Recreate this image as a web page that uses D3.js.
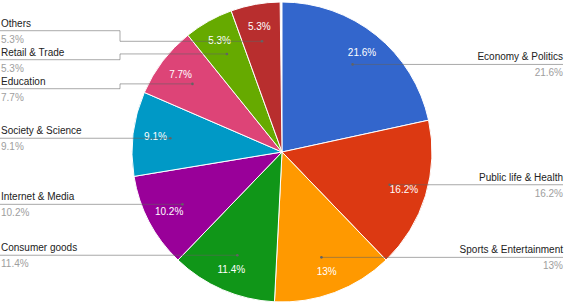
<!DOCTYPE html>
<meta charset="utf-8">
<style>
  body { margin: 0; background: #fff; }
  text { font-family: "Liberation Sans", Arial, sans-serif; font-size: 10px; }
</style>
<body>
<script src="https://cdn.jsdelivr.net/npm/d3@7"></script>
<script>
  // slices, clockwise from 12 o'clock
  var categories = ["Economy & Politics", "Public life & Health", "Sports & Entertainment",
    "Consumer goods", "Internet & Media", "Society & Science", "Education", "Retail & Trade", "Others"];
  var values = [21.6, 16.2, 13, 11.4, 10.2, 9.1, 7.7, 5.3, 5.3];
  var valueLabels = ["21.6%", "16.2%", "13%", "11.4%", "10.2%", "9.1%", "7.7%", "5.3%", "5.3%"];
  var colors = ["#3366cc", "#dc3912", "#ff9900", "#109618", "#990099", "#0099c6", "#dd4477", "#66aa00", "#b82e2e"];

  var width = 564, height = 304,
    cx = 282, cy = 152, radius = 150;

  var svg = d3.select("body").append("svg")
    .attr("width", width)
    .attr("height", height);

  var data = categories.map(function (c, i) {
    return { name: c, value: values[i], label: valueLabels[i], color: colors[i] };
  });

  var pie = d3.pie()
    .sort(null)
    .value(function (d) { return d.value; })
    .endAngle(2 * Math.PI * d3.sum(values) / 100);

  var arc = d3.arc().innerRadius(0).outerRadius(radius);
  var labelArc = d3.arc().innerRadius(radius * 0.85).outerRadius(radius * 0.85);
  var dotArc = d3.arc().innerRadius(radius * 0.75).outerRadius(radius * 0.75);

  var arcs = pie(data);

  var g = svg.append("g")
    .attr("transform", "translate(" + cx + "," + cy + ")");

  g.selectAll(".slice")
    .data(arcs)
    .enter()
    .append("path")
    .attr("class", "slice")
    .attr("d", arc)
    .attr("fill", function (d) { return d.data.color; })
    .attr("stroke", "#fff")
    .attr("stroke-width", 1);

  g.selectAll(".pct")
    .data(arcs)
    .enter()
    .append("text")
    .attr("class", "pct")
    .attr("transform", function (d) { return "translate(" + labelArc.centroid(d) + ")"; })
    .attr("text-anchor", "middle")
    .attr("dy", "0.35em")
    .attr("fill", "#fff")
    .text(function (d) { return d.data.label; });

  // legend labels with leader lines
  arcs.forEach(function (d) {
    var p = dotArc.centroid(d);
    d.dot = [cx + p[0], cy + p[1]];
    d.side = (d.startAngle + d.endAngle) / 2 < Math.PI ? "right" : "left";
    d.ly = d.dot[1];
  });

  // push overlapping labels apart, keeping each cluster centred on its dots
  var gap = 29;
  ["left", "right"].forEach(function (side) {
    var items = arcs.filter(function (d) { return d.side === side; })
      .sort(function (a, b) { return a.dot[1] - b.dot[1]; });
    var clusters = items.map(function (d) { return [d]; });
    var merged = true;
    function place(cl) {
      var mean = d3.mean(cl, function (d) { return d.dot[1]; });
      var top = mean - gap * (cl.length - 1) / 2;
      cl.forEach(function (d, i) { d.ly = top + i * gap; });
    }
    clusters.forEach(place);
    while (merged) {
      merged = false;
      for (var i = 0; i < clusters.length - 1; i++) {
        var a = clusters[i], b = clusters[i + 1];
        if (b[0].ly - a[a.length - 1].ly < gap) {
          clusters.splice(i, 2, a.concat(b));
          place(clusters[i]);
          merged = true;
          break;
        }
      }
    }
  });

  var bendX = 120;

  var leaders = svg.append("g");

  arcs.forEach(function (d) {
    var pts;
    if (d.side === "right") {
      pts = [d.dot, [width - 1, d.ly]];
    } else if (Math.abs(d.ly - d.dot[1]) < 1) {
      pts = [[0, d.ly], d.dot];
    } else {
      pts = [[0, d.ly], [bendX, d.ly], [bendX, d.dot[1]], d.dot];
    }
    leaders.append("path")
      .attr("d", d3.line()(pts))
      .attr("fill", "none")
      .attr("stroke", "#636363")
      .attr("stroke-opacity", 0.55)
      .attr("stroke-width", 1);
    leaders.append("circle")
      .attr("cx", d.dot[0])
      .attr("cy", d.dot[1])
      .attr("r", 1.3)
      .attr("fill", "#636363");

    var tx = d.side === "right" ? width - 1 : 1;
    var anchor = d.side === "right" ? "end" : "start";
    leaders.append("text")
      .attr("x", tx)
      .attr("y", d.ly - 4)
      .attr("text-anchor", anchor)
      .attr("fill", "#222")
      .text(d.data.name);
    leaders.append("text")
      .attr("x", tx)
      .attr("y", d.ly + 12)
      .attr("text-anchor", anchor)
      .attr("fill", "#9e9e9e")
      .text(d.data.label);
  });
</script>
</body>
